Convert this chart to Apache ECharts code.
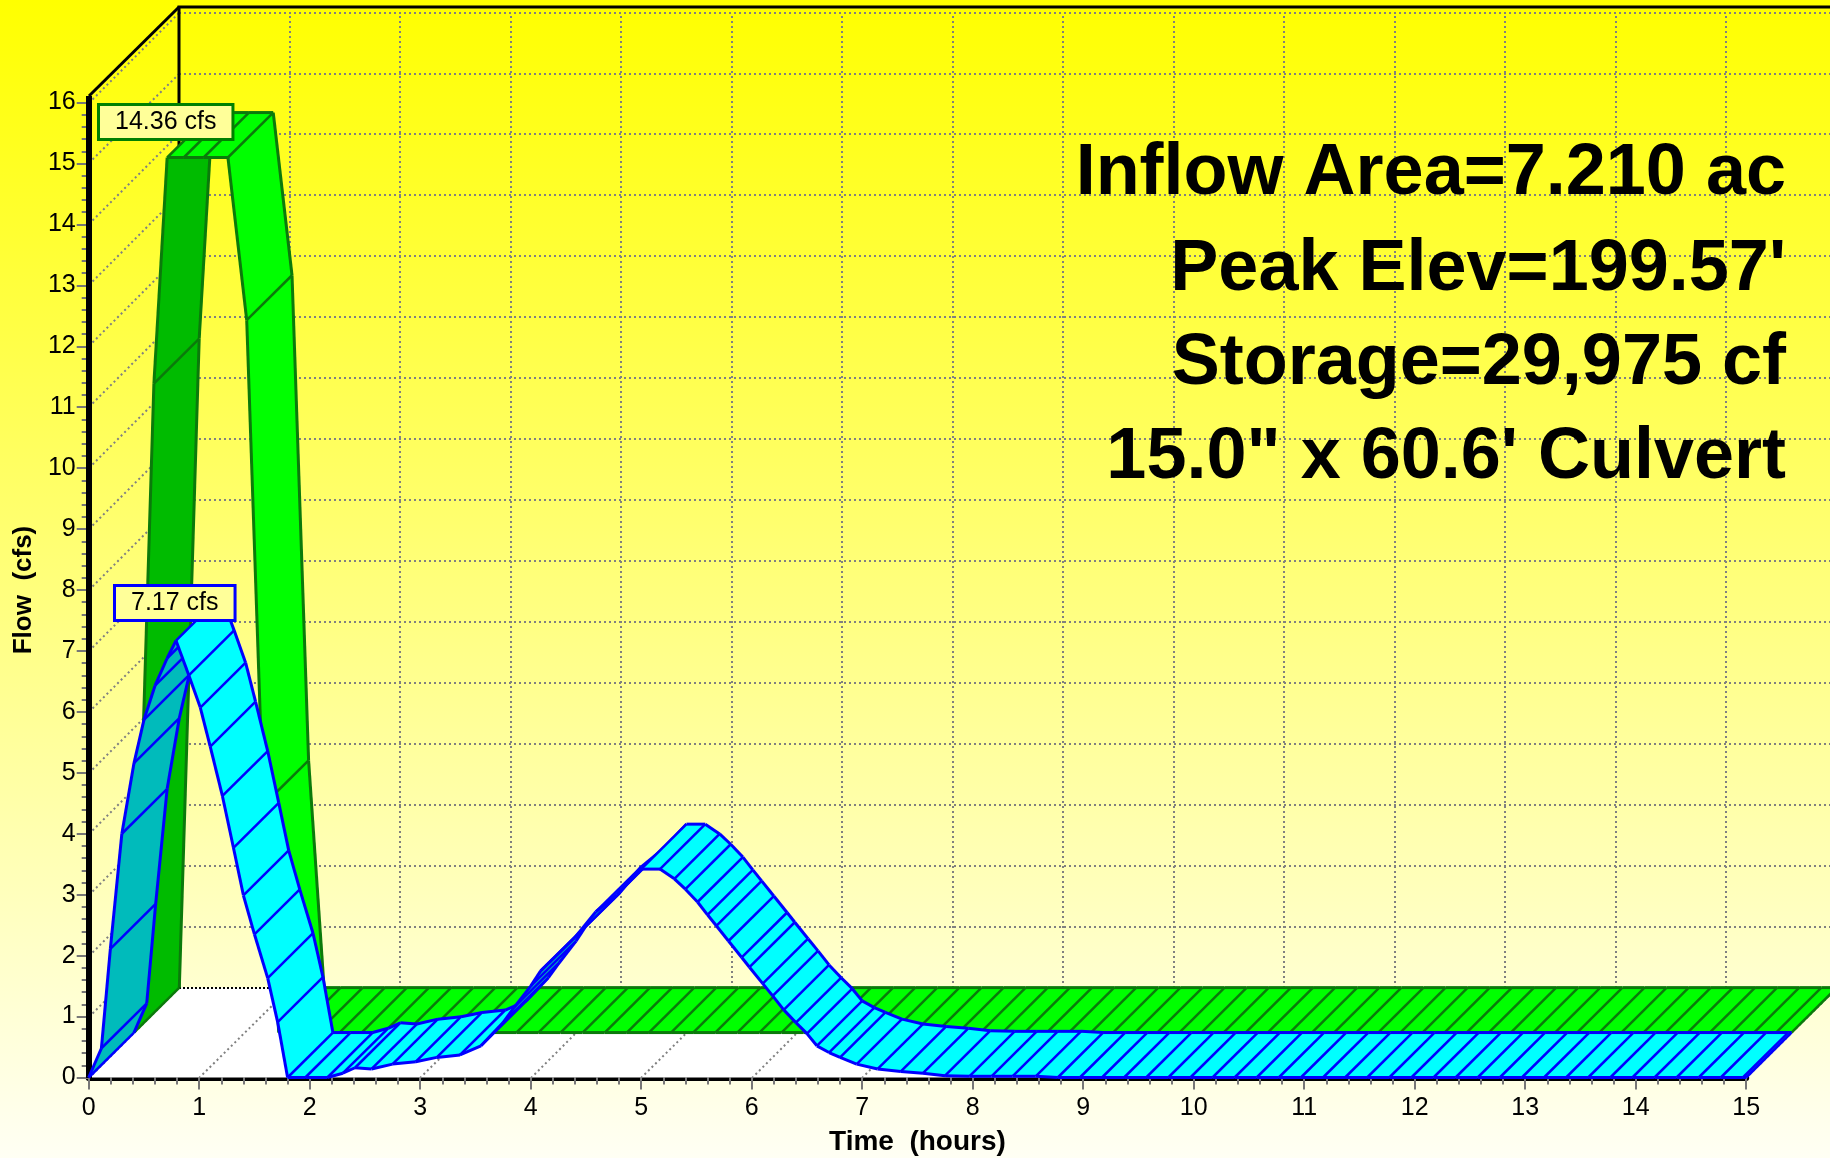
<!DOCTYPE html>
<html><head><meta charset="utf-8">
<style>html,body{margin:0;padding:0;background:#fff}#c{width:1830px;height:1158px}</style>
<script src="https://cdn.jsdelivr.net/npm/echarts@6/dist/echarts.min.js"></script>
</head><body><div id="c"></div>
<script>
// Data
const greenTimes = [0,0.18,0.30,0.45,0.63,0.85,1.02,1.17,1.31,1.46,1.66,1.86,2.06,2.26,2.46,2.66,2.86,3.06,3.26,3.46,3.66,3.86,4.06,4.26,4.46,4.66,4.86,5.06,5.26,5.46,5.66,5.86,6.06,6.26,6.46,6.66,6.86,7.06,7.26,7.46,7.66,7.86,8.06,8.26,8.46,8.66,8.86,9.06,9.26,9.46,9.66,9.86,10.06,10.26,10.46,10.66,10.86,11.06,11.26,11.46,11.66,11.86,12.06,12.26,12.46,12.66,12.86,13.06,13.26,13.46,13.66,13.86,14.06,14.26,14.46,14.66,14.86,15];
const greenFlow = [0,10.65,14.36,14.36,14.36,14.36,11.69,3.73,0,0,0,0,0,0,0,0,0,0,0,0,0,0,0,0,0,0,0,0,0,0,0,0,0,0,0,0,0,0,0,0,0,0,0,0,0,0,0,0,0,0,0,0,0,0,0,0,0,0,0,0,0,0,0,0,0,0,0,0,0,0,0,0,0,0,0,0,0,0];
const blueTimes = [0,0.115,0.196,0.30,0.41,0.50,0.60,0.71,0.79,0.906,1.01,1.10,1.21,1.31,1.40,1.50,1.62,1.71,1.80,1.96,2.16,2.30,2.41,2.56,2.75,2.96,3.15,3.36,3.55,3.75,3.85,4.00,4.09,4.40,4.59,4.78,4.89,5.00,5.17,5.30,5.40,5.51,5.60,5.68,5.79,5.91,5.98,6.10,6.19,6.29,6.40,6.50,6.59,6.70,6.80,6.95,7.14,7.35,7.55,7.75,7.97,8.17,8.36,8.57,8.77,8.97,9.17,9.37,9.57,9.77,9.97,10.17,10.37,10.57,10.77,10.97,11.17,11.37,11.57,11.77,11.97,12.17,12.37,12.57,12.77,12.97,13.17,13.37,13.57,13.77,13.97,14.17,14.37,14.57,14.77,14.97,15];
const blueFlow = [0,0.48,2.11,4.00,5.16,5.87,6.43,6.88,7.17,6.60,6.07,5.43,4.62,3.77,2.99,2.35,1.63,0.91,0,0,0,0.07,0.16,0.14,0.22,0.26,0.33,0.37,0.52,0.90,1.15,1.50,1.75,2.30,2.72,3.00,3.21,3.42,3.42,3.26,3.09,2.88,2.67,2.49,2.24,1.97,1.81,1.54,1.34,1.11,0.90,0.72,0.52,0.41,0.33,0.22,0.14,0.10,0.07,0.03,0.02,0.02,0.02,0.02,0,0,0,0,0,0,0,0,0,0,0,0,0,0,0,0,0,0,0,0,0,0,0,0,0,0,0,0,0,0,0,0,0];
const timeTicks = [1,2,3,4,5,6,7,8,9,10,11,12,13,14,15];
const flowTicks = [0,1,2,3,4,5,6,7,8,9,10,11,12,13,14,15,16];
const summaryLines = ["Inflow Area=7.210 ac","Peak Elev=199.57'","Storage=29,975 cf","15.0\" x 60.6' Culvert"];
const peakLabels = ["14.36 cfs","7.17 cfs"];

// One full depth of the 3D box, expressed in axis units
const DEPTH_T = 0.82, DEPTH_Y = 1.475, FLOW_TOP = 16.1, T_FAR = 17;
const FONT = '"Liberation Sans", Arial, sans-serif';
const project = (api, t, y, d) => api.coord([t + d * DEPTH_T, y + d * DEPTH_Y]);
const snap = p => [Math.round(p[0]), Math.round(p[1])];

function line(pts, stroke, lineWidth, dash) {
  return {type:'polyline', shape:{points:pts}, style:{fill:null, stroke, lineWidth, lineDash:dash||null}};
}

function renderFrame(params, api) {
  const dot = '#808080', dash = [2,3], c = [];
  const P = (t,y,d) => snap(project(api,t,y,d));
  c.push({type:'polygon', shape:{points:[project(api,0,0,0),project(api,15,0,0),project(api,15,0,1),project(api,0,0,1)]}, style:{fill:'#ffffff'}});
  flowTicks.forEach(v => {
    if (v > 0) c.push(line([P(0,v,1),P(T_FAR,v,1)], dot, 2, dash));
    c.push(line([P(0,v,0),P(0,v,1)], dot, 2, dash));
  });
  timeTicks.forEach(t => {
    c.push(line([P(t,0,1),P(t,16,1)], dot, 2, dash));
    c.push(line([P(t,0,0),P(t,0,1)], dot, 2, dash));
  });
  c.push(line([P(0,0,1),P(T_FAR,0,1)], '#000', 2, [2,2]));
  c.push(line([P(0,0,1),P(0,FLOW_TOP,1),P(T_FAR,FLOW_TOP,1)], '#000', 3));
  c.push(line([P(0,FLOW_TOP,0),P(0,FLOW_TOP,1)], '#000', 3));
  c.push(line([P(0,0,0),P(0,FLOW_TOP,0)], '#000', 6));
  return {type:'group', children:c};
}

function ribbon(data, fill, under, stroke, d0, d1) {
  return function (params, api) {
    const i = params.dataIndex, t = api.value(0), y = api.value(1), c = [];
    const a0 = project(api,t,y,d0), a1 = project(api,t,y,d1);
    if (i < data.length - 1) {
      const [t2,y2] = data[i+1];
      const b0 = project(api,t2,y2,d0), b1 = project(api,t2,y2,d1);
      const cross = (b0[0]-a0[0])*(a1[1]-a0[1]) - (b0[1]-a0[1])*(a1[0]-a0[0]);
      c.push({type:'polygon', shape:{points:[a0,b0,b1,a1]}, style:{fill: cross > 0 ? under : fill}});
      c.push(line([a0,b0], stroke, 3));
      c.push(line([a1,b1], stroke, 3));
    }
    c.push(line([a0,a1], stroke, 2.5));
    return {type:'group', children:c};
  };
}

const zip = (a,b) => a.map((v,i) => [v,b[i]]);
const greenData = zip(greenTimes, greenFlow), blueData = zip(blueTimes, blueFlow);

const chart = echarts.init(document.getElementById('c'), null, {renderer:'canvas', width:1830, height:1158});
chart.setOption({
  animation:false,
  backgroundColor:{type:'linear',x:0,y:0,x2:0,y2:1,colorStops:[{offset:0,color:'#ffff00'},{offset:1,color:'#fffff4'}]},
  grid:{left:88.7, top:102.5, width:1657.5, height:975, outerBoundsMode:'none', containLabel:false},
  xAxis:{type:'value',min:0,max:15,interval:1,
    name:'Time  (hours)',nameLocation:'middle',nameGap:51,
    nameTextStyle:{fontFamily:FONT,fontSize:28,fontWeight:'bold',color:'#000'},
    axisLine:{show:true,onZero:false,lineStyle:{color:'#000',width:6}},
    axisTick:{show:true,length:12,lineStyle:{color:'#777',width:2}},
    minorTick:{show:true,splitNumber:5,length:7,lineStyle:{color:'#777',width:2}},
    splitLine:{show:false},
    axisLabel:{fontFamily:FONT,fontSize:25,color:'#000',margin:18}},
  yAxis:{type:'value',min:0,max:16,interval:1,
    name:'Flow  (cfs)',nameLocation:'middle',nameGap:52,
    nameTextStyle:{fontFamily:FONT,fontSize:26,fontWeight:'bold',color:'#000'},
    axisLine:{show:true,lineStyle:{color:'#000',width:6}},
    axisTick:{show:true,length:12,lineStyle:{color:'#777',width:2}},
    minorTick:{show:true,splitNumber:5,length:7,lineStyle:{color:'#777',width:2}},
    splitLine:{show:false},
    axisLabel:{fontFamily:FONT,fontSize:25,color:'#000',margin:13}},
  series:[
    {type:'custom',silent:true,clip:false,z:1,coordinateSystem:'cartesian2d',data:[[0,0]],renderItem:renderFrame},
    {type:'custom',silent:true,clip:false,z:3,coordinateSystem:'cartesian2d',data:greenData,
     renderItem:ribbon(greenData,'#00ff00','#00bb00','#0b7a0b',0.5,1)},
    {type:'custom',silent:true,clip:false,z:4,coordinateSystem:'cartesian2d',data:blueData,
     renderItem:ribbon(blueData,'#00ffff','#00bbbb','#0000ff',0,0.5)}
  ],
  graphic:[
    ...summaryLines.map((s,i)=>({type:'text',z:20,x:1786,y:[174,270,364,458][i],silent:true,
      style:{text:s,fill:'#000',font:'bold 72px '+FONT,textAlign:'right',textVerticalAlign:'middle'}})),
    {type:'text',z:20,x:100,y:106,silent:true,style:{text:peakLabels[0],fill:'#000',font:'25px '+FONT,backgroundColor:'#ffff99',borderColor:'#008000',borderWidth:3,padding:[4,15,3,15]}},
    {type:'text',z:20,x:116,y:587,silent:true,style:{text:peakLabels[1],fill:'#000',font:'25px '+FONT,backgroundColor:'#ffff99',borderColor:'#0000ff',borderWidth:3,padding:[4,15,3,15]}}
  ]
});
</script></body></html>
